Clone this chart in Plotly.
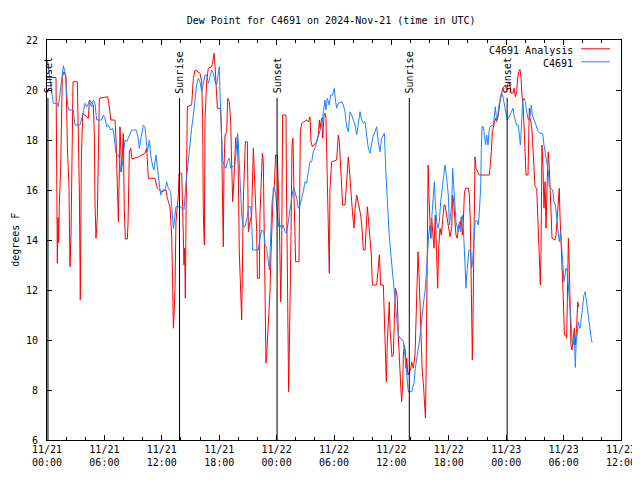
import plotly.graph_objects as go
import pandas as pd

# ---------------- data (hours after 2024-11-21 00:00 UTC, dew point degF) ----------------
BASE = pd.Timestamp("2024-11-21 00:00")
RANGE_HOURS = [0, 60]

analysis_points = [  # C4691 Analysis (red)
    (0.03, 20.5), (0.94, 20.5), (0.98, 18.67), (1.08, 13.07), (1.15, 14.9), (1.22, 13.9), (1.29, 15.4),
    (1.43, 16.93), (1.60, 20.53), (1.78, 20.73), (1.99, 20.53), (2.13, 17.73), (2.30, 16.07), (2.40, 12.93),
    (2.51, 14.2), (2.61, 16.67), (2.72, 20.33), (3.17, 20.33), (3.28, 18.6), (3.38, 16.0), (3.45, 13.07),
    (3.48, 11.6), (3.59, 17.2), (3.73, 19.07), (4.32, 18.87), (4.43, 19.6), (4.84, 19.4), (4.95, 18.2),
    (5.02, 15.47), (5.12, 14.07), (5.26, 14.9), (5.37, 18.6), (5.47, 19.67), (6.34, 19.73), (6.52, 19.33),
    (6.66, 18.8), (7.11, 18.8), (7.21, 18.07), (7.35, 15.47), (7.46, 14.73), (7.56, 16.73), (7.63, 18.53),
    (7.80, 16.73), (7.98, 18.27), (8.08, 15.2), (8.19, 14.04), (8.40, 14.04), (8.47, 14.67), (8.61, 17.53),
    (8.75, 17.67), (8.89, 17.24), (9.58, 17.33), (10.24, 17.47),
    (10.42, 17.67), (10.59, 16.47), (11.29, 16.47), (11.53, 16.07), (11.99, 15.93), (12.44, 16.0),
    (12.58, 15.67), (12.86, 15.33), (13.03, 14.2), (13.14, 12.07), (13.21, 10.47), (13.28, 11.0),
    (13.38, 12.07), (13.48, 14.73), (13.62, 15.27), (13.73, 15.8), (13.80, 16.67), (14.08, 16.67),
    (14.18, 15.27), (14.32, 13.0), (14.39, 13.67), (14.46, 11.67), (14.53, 14.87), (14.67, 19.33),
    (15.12, 19.4), (15.30, 20.47), (15.47, 20.8), (15.99, 20.67), (16.17, 20.33), (16.27, 18.87),
    (16.34, 15.0), (16.45, 13.8), (16.52, 18.87), (16.69, 20.33), (16.86, 20.87), (17.21, 20.93),
    (17.39, 21.27), (17.46, 21.47), (17.56, 21.0), (17.67, 20.07), (17.81, 19.27), (18.15, 19.27),
    (18.26, 17.93), (18.36, 15.27), (18.43, 13.73), (18.50, 16.87), (18.61, 18.2), (18.78, 18.33),
    (18.89, 19.67), (19.06, 19.53), (19.20, 18.73), (19.27, 17.53), (19.41, 15.53), (19.55, 16.47),
    (19.72, 18.07), (19.90, 18.07), (20.00, 16.6), (20.10, 13.53), (20.24, 11.67), (20.35, 10.8),
    (20.52, 15.53), (20.63, 16.73),
    (20.73, 17.93), (20.94, 17.93), (21.05, 14.33), (21.22, 14.73), (21.39, 15.0), (21.57, 17.67),
    (21.67, 16.87), (21.78, 15.53), (21.92, 14.33), (21.99, 12.47), (22.20, 12.47), (22.26, 15.0),
    (22.37, 16.2), (22.51, 17.47), (22.61, 17.13), (22.72, 14.47), (22.82, 11.13), (22.89, 9.07),
    (22.96, 9.4), (23.07, 10.07), (23.17, 10.87), (23.31, 11.93), (23.41, 13.4), (23.52, 14.73),
    (23.66, 16.07), (23.76, 16.13), (23.90, 17.4), (24.08, 17.4), (24.18, 16.33), (24.29, 14.73),
    (24.43, 11.53), (24.53, 13.53), (24.63, 19.0), (24.98, 19.0), (25.05, 15.53), (25.16, 10.73),
    (25.26, 7.93), (25.33, 9.53), (25.40, 10.87), (25.51, 14.33), (25.61, 17.8), (25.71, 18.07),
    (25.82, 15.8), (25.92, 13.67), (25.99, 13.13), (26.34, 13.13), (26.41, 15.8), (26.48, 18.33),
    (26.62, 18.67), (27.14, 18.8), (27.32, 18.73), (27.49, 18.93), (27.60, 17.93), (27.74, 17.73),
    (28.19, 17.93), (28.36, 18.2), (28.47, 18.8), (28.54, 18.47), (28.71, 18.87), (28.82, 18.07),
    (28.96, 19.0), (29.06, 19.07), (29.16, 18.87), (29.30, 16.2), (29.41, 13.8), (29.51, 12.67),
    (29.58, 16.07), (29.76, 17.13), (30.28, 17.2), (30.45, 18.2), (30.56, 17.93), (30.70, 17.0),
    (30.90, 15.4), (31.15, 15.4),
    (31.32, 16.6), (31.50, 17.33), (31.60, 16.87), (31.74, 15.93), (31.85, 15.67), (31.95, 15.0),
    (32.09, 14.47), (32.20, 15.27), (32.37, 15.8), (32.51, 15.53), (32.65, 15.27), (32.79, 15.0),
    (32.93, 14.47), (33.07, 13.6), (33.24, 13.6), (33.35, 14.2), (33.49, 15.33), (33.62, 14.73),
    (33.76, 14.2), (33.90, 13.4), (34.01, 12.2), (34.46, 12.2), (34.63, 12.87), (34.74, 13.4),
    (34.81, 12.87), (34.88, 12.2), (35.16, 12.2), (35.26, 11.13), (35.37, 9.4), (35.47, 8.33),
    (35.57, 9.93), (35.68, 11.13), (35.78, 11.53), (35.85, 10.47), (35.96, 9.93), (36.06, 9.33),
    (36.20, 9.4), (36.31, 10.47), (36.41, 12.07), (36.52, 11.93), (36.62, 11.67), (36.72, 10.2),
    (36.83, 9.0), (36.97, 8.2), (37.07, 7.53), (37.18, 8.2), (37.25, 9.4), (37.35, 9.8), (37.46, 9.53),
    (37.53, 8.87), (37.60, 9.27), (37.73, 8.6), (37.87, 8.73), (38.01, 8.8), (38.12, 9.13), (38.29, 8.87),
    (38.47, 9.4), (38.57, 11.13), (38.68, 12.87), (38.78, 13.53), (38.89, 12.6), (39.00, 11.27),
    (39.10, 9.93), (39.21, 8.87), (39.35, 8.2), (39.45, 7.27), (39.56, 6.87), (39.63, 8.87),
    (39.70, 11.53), (39.77, 14.2), (39.84, 17.0), (39.91, 15.93), (40.02, 14.73), (40.10, 14.07),
    (40.21, 14.87), (40.31, 14.2), (40.45, 13.67), (40.59, 15.0), (40.73, 13.53), (40.84, 12.07),
    (40.94, 13.67), (41.08, 14.47), (41.22, 14.2), (41.36, 14.87), (41.50, 15.4), (41.60, 15.4),
    (41.78, 15.0), (41.95, 14.47), (42.13, 14.13), (42.30, 14.47), (42.40, 15.8), (42.51, 15.53),
    (42.61, 14.73), (42.75, 14.2), (42.89, 14.07), (43.03, 14.6), (43.17, 14.47), (43.31, 14.93),
    (43.41, 14.2), (43.52, 14.73), (43.62, 15.8), (43.73, 16.07), (44.04, 16.07), (44.15, 15.8),
    (44.25, 14.73), (44.32, 12.87), (44.39, 11.0), (44.46, 9.2), (44.53, 10.87), (44.60, 13.13),
    (44.67, 15.53), (44.74, 17.33), (44.84, 16.87), (45.19, 16.6), (46.24, 16.6), (46.34, 17.0),
    (46.45, 17.53), (46.55, 18.33), (46.66, 18.53), (46.87, 18.87), (47.00, 18.73), (47.18, 19.0),
    (47.35, 19.53), (47.49, 19.8), (47.63, 20.07), (47.91, 20.2), (48.05, 20.0), (48.15, 20.2),
    (48.26, 20.33), (48.40, 20.2), (48.50, 19.87), (48.68, 19.87), (48.82, 20.07), (48.96, 19.73),
    (49.09, 19.93), (49.20, 20.47), (49.30, 20.73), (49.44, 20.83), (49.55, 20.47), (49.65, 19.8),
    (49.76, 19.4), (49.86, 18.6), (49.97, 17.53), (50.07, 16.6), (50.28, 16.6), (50.35, 17.8),
    (50.42, 19.27), (50.49, 18.87), (50.59, 18.73), (50.70, 18.33), (50.80, 17.4), (50.91, 16.6),
    (51.01, 16.13), (51.19, 16.07), (51.29, 15.0), (51.40, 14.2), (51.50, 12.87), (51.57, 12.2),
    (51.64, 13.53), (51.74, 17.8), (51.85, 16.87), (51.95, 15.27),
    (52.06, 16.33), (52.16, 14.47), (52.30, 16.47), (52.40, 17.53), (52.51, 16.87), (52.58, 16.07),
    (52.68, 15.0), (52.79, 14.07), (53.10, 14.0), (53.21, 14.2), (53.35, 15.0), (53.45, 15.53),
    (53.55, 16.07), (53.62, 15.0), (53.69, 14.33), (53.80, 13.93), (53.90, 12.87), (53.97, 11.67),
    (54.08, 10.2), (54.22, 10.2), (54.32, 10.07), (54.43, 12.87), (54.50, 14.07), (54.59, 13.0),
    (54.67, 11.4), (54.77, 9.8), (54.88, 9.6), (55.02, 10.2), (55.12, 10.47), (55.23, 9.8),
    (55.36, 10.47), (55.47, 11.53), (55.57, 11.33),
]

station_points = [  # C4691 observations (blue)
    (0.03, 21.2), (0.31, 20.47), (0.66, 19.47), (1.08, 19.47), (1.18, 19.33), (1.53, 20.4), (1.71, 20.97),
    (1.88, 20.73), (2.16, 19.4), (2.30, 19.2), (2.75, 19.2), (2.93, 18.6), (3.45, 18.6), (3.73, 19.0),
    (3.97, 19.47), (4.15, 19.33), (4.43, 19.53), (4.67, 19.33), (4.84, 19.6), (5.02, 19.47), (5.19, 18.8),
    (5.71, 18.8), (5.89, 19.0), (6.06, 18.87), (6.24, 18.53), (6.41, 18.6), (6.66, 18.4), (6.86, 18.47),
    (7.00, 18.2), (7.21, 17.47), (7.46, 17.4), (7.56, 17.27), (7.70, 16.73), (7.91, 17.13), (8.15, 18.0),
    (8.33, 17.93), (8.61, 18.2), (8.85, 18.4), (9.30, 18.4), (9.48, 18.2), (9.65, 17.67), (9.83, 18.13),
    (10.07, 18.6), (10.24, 18.53),
    (10.35, 17.93), (10.49, 17.53), (10.70, 18.0), (10.84, 17.4), (11.05, 16.93), (11.18, 16.8),
    (11.39, 17.4), (11.53, 16.87), (11.67, 16.33), (11.88, 15.8), (12.09, 16.0), (12.33, 16.0),
    (12.51, 16.33), (12.68, 16.07), (12.93, 15.93), (13.03, 15.33), (13.21, 14.47), (13.31, 14.73),
    (13.48, 15.33), (13.90, 15.33), (14.32, 15.2), (14.53, 16.27), (14.67, 16.87), (14.81, 17.4),
    (14.95, 17.93), (15.12, 18.47), (15.30, 19.0), (15.47, 19.53), (15.64, 20.2), (15.82, 20.47),
    (15.99, 20.33), (16.17, 19.93), (16.34, 20.33), (16.52, 20.6), (16.69, 20.6), (16.86, 20.27),
    (17.04, 20.53), (17.21, 20.8), (17.39, 20.67), (17.56, 20.33), (17.73, 20.2), (17.91, 20.73),
    (18.01, 20.93), (18.08, 19.93), (18.19, 18.73), (18.26, 17.93), (18.36, 17.13), (18.71, 16.87),
    (18.85, 17.13), (19.06, 17.27), (19.20, 16.87), (19.65, 17.0), (19.83, 17.8), (19.93, 18.27),
    (20.03, 17.67), (20.17, 16.6), (20.35, 15.0), (20.52, 14.53), (20.70, 14.53),
    (20.94, 14.93), (21.05, 15.33), (21.29, 15.33), (21.39, 14.73), (21.50, 13.6), (22.09, 13.6),
    (22.26, 14.07), (22.44, 14.4), (22.68, 14.33), (22.79, 13.8), (22.96, 13.67), (23.14, 13.13),
    (23.24, 12.8), (23.31, 13.4), (23.41, 14.73), (23.52, 15.53), (23.66, 15.8), (23.76, 16.13),
    (23.87, 15.93), (24.01, 15.27), (24.11, 15.0), (24.22, 14.53), (24.36, 14.6), (24.53, 14.47),
    (24.70, 14.6), (24.88, 14.33), (25.05, 14.27), (25.16, 14.6), (25.33, 15.0), (25.47, 15.53),
    (25.68, 15.93), (25.82, 16.07), (25.92, 15.93), (26.10, 15.67), (26.27, 15.27), (26.45, 15.4),
    (26.62, 15.67), (26.79, 15.93), (26.97, 16.33), (27.14, 16.27), (27.32, 16.73), (27.49, 17.13),
    (27.67, 17.13), (27.84, 17.53), (28.01, 17.67), (28.19, 17.93), (28.36, 18.07), (28.54, 18.33),
    (28.71, 18.6), (28.89, 19.13), (29.06, 19.6), (29.16, 19.2), (29.30, 19.67), (29.51, 19.4),
    (29.65, 19.8), (29.86, 19.8), (30.03, 20.07), (30.17, 19.53), (30.28, 19.27), (30.45, 19.47),
    (30.80, 19.53), (30.98, 19.4), (31.15, 19.13),
    (31.32, 18.53), (31.50, 18.33), (31.67, 19.13), (31.85, 19.0), (32.02, 18.8), (32.20, 18.6),
    (32.37, 18.2), (32.54, 18.73), (32.72, 19.13), (32.89, 18.8), (33.07, 18.67), (33.24, 18.73),
    (33.41, 18.2), (33.59, 17.67), (33.76, 17.47), (33.94, 17.93), (34.11, 18.2), (34.29, 18.33),
    (34.46, 18.53), (34.63, 17.93), (34.81, 17.53), (34.98, 18.07), (35.26, 18.27), (35.44, 16.6),
    (35.61, 15.13), (35.75, 14.33), (35.92, 13.53), (36.13, 12.6), (36.31, 11.93), (36.48, 11.27),
    (36.62, 10.73), (36.72, 10.2), (36.90, 10.07), (37.18, 10.0), (37.32, 9.8), (37.46, 9.13),
    (37.60, 8.6), (37.70, 8.07), (37.77, 7.93), (38.12, 7.93), (38.22, 8.07), (38.36, 8.27),
    (38.50, 8.87), (38.64, 9.33), (38.82, 9.67), (38.92, 9.93), (39.06, 10.33), (39.23, 11.0),
    (39.41, 11.67), (39.51, 11.93), (39.62, 12.47), (39.76, 13.4), (39.90, 14.2), (40.03, 14.6),
    (40.14, 14.07), (40.24, 15.0), (40.38, 15.8), (40.49, 16.33), (40.59, 15.53), (40.73, 14.73),
    (40.87, 14.47), (41.01, 14.73), (41.15, 15.53), (41.29, 16.07), (41.43, 16.6), (41.60, 17.0),
    (41.78, 16.47), (41.95, 15.8), (42.06, 14.6), (42.20, 15.0), (42.30, 15.4), (42.40, 16.87),
    (42.51, 16.07), (42.65, 15.53), (42.75, 14.73), (42.89, 14.53), (43.00, 14.33), (43.10, 14.73),
    (43.24, 14.33), (43.34, 14.73), (43.45, 15.0), (43.59, 13.93), (43.69, 12.73), (43.80, 12.07),
    (43.87, 12.6), (44.01, 13.4), (44.11, 13.6), (44.29, 13.6), (44.39, 12.87), (44.49, 13.13),
    (44.63, 14.07), (44.74, 14.73), (44.91, 14.8), (45.09, 14.6), (45.19, 15.13), (45.33, 16.07),
    (45.40, 17.67), (45.47, 18.53), (45.61, 18.53), (45.71, 18.2), (45.85, 17.8), (45.96, 18.2),
    (46.10, 17.8), (46.20, 18.33), (46.31, 18.53), (46.66, 18.6), (46.76, 19.0), (46.86, 19.33),
    (47.00, 18.8), (47.11, 19.0), (47.21, 19.33), (47.35, 19.6), (47.49, 19.87), (47.63, 19.8),
    (47.74, 19.53), (47.87, 19.33), (48.01, 19.0), (48.12, 18.8), (48.26, 18.87), (48.40, 19.0),
    (48.57, 19.2), (48.71, 19.27), (48.81, 19.0), (48.95, 18.73), (49.09, 18.6), (49.27, 18.6),
    (49.37, 18.2), (49.48, 17.8), (49.58, 18.47), (49.72, 19.53), (49.86, 19.67), (50.00, 19.53),
    (50.14, 19.13), (50.31, 18.8), (50.49, 19.0), (50.63, 19.4), (50.73, 19.0), (50.91, 18.8),
    (51.05, 18.6), (51.19, 18.47), (51.36, 18.33), (51.53, 18.27), (51.81, 18.27), (51.95, 17.8),
    (52.09, 17.4), (52.23, 17.0), (52.40, 16.73), (52.51, 16.13), (52.86, 16.0), (53.00, 15.53),
    (53.14, 15.4), (53.28, 14.87), (53.45, 14.33), (53.55, 13.93), (53.69, 14.33), (53.80, 13.67),
    (53.90, 13.0), (54.04, 12.33), (54.15, 12.6), (54.25, 12.87), (54.39, 12.73), (54.53, 12.07),
    (54.67, 11.13), (54.77, 10.73), (54.88, 9.93), (55.02, 9.8), (55.12, 10.2), (55.23, 8.9),
    (55.30, 9.8), (55.44, 10.47), (55.54, 10.73), (55.64, 10.47), (55.71, 10.47), (55.85, 10.87),
    (55.99, 11.4), (56.13, 11.8), (56.27, 11.93), (56.41, 11.53), (56.55, 11.0), (56.69, 10.73),
    (56.83, 10.2), (56.93, 9.93), (57.04, 9.93),
]

sunset_hours = [0.10, 24.05, 48.10]
sunrise_hours = [13.85, 37.87, 61.88]

tick_hours = [0, 6, 12, 18, 24, 30, 36, 42, 48, 54, 60]
tick_labels = ["11/21<br>00:00", "11/21<br>06:00", "11/21<br>12:00", "11/21<br>18:00",
               "11/22<br>00:00", "11/22<br>06:00", "11/22<br>12:00", "11/22<br>18:00",
               "11/23<br>00:00", "11/23<br>06:00", "11/23<br>12:00"]
y_ticks = [6, 8, 10, 12, 14, 16, 18, 20, 22]

analysis_hours = [p[0] for p in analysis_points]
analysis_dew = [p[1] for p in analysis_points]
station_hours = [p[0] for p in station_points]
station_dew = [p[1] for p in station_points]


def to_time(hours):
    return [BASE + pd.Timedelta(hours=h) for h in hours]


def to_paper(h):
    return (h - RANGE_HOURS[0]) / (RANGE_HOURS[1] - RANGE_HOURS[0])


FONT = "DejaVu Sans Mono"
RED = "#ff0000"
BLUE = "#1a85ff"

# the page body adds an 8px margin, so the figure is 8px smaller than the window
PAGE_OFFSET = 8
FIG_W, FIG_H = 640 - PAGE_OFFSET, 480 - PAGE_OFFSET

fig = go.Figure()
fig.add_trace(go.Scatter(x=to_time(analysis_hours), y=analysis_dew, mode="lines",
                         name="C4691 Analysis", line=dict(color=RED, width=1),
                         showlegend=False))
fig.add_trace(go.Scatter(x=to_time(station_hours), y=station_dew, mode="lines",
                         name="C4691", line=dict(color=BLUE, width=1),
                         showlegend=False))

shapes = []
annotations = []
for label, hours in (("Sunset", sunset_hours), ("Sunrise", sunrise_hours)):
    for h in hours:
        px = to_paper(h)
        shapes.append(dict(type="line", xref="paper", yref="paper", x0=px, x1=px,
                           y0=0, y1=0.855, line=dict(color="black", width=1)))
        annotations.append(dict(text=label, xref="paper", yref="paper", x=px, y=0.862,
                                xanchor="center", yanchor="bottom", textangle=-90,
                                showarrow=False, font=dict(family=FONT, size=10, color="black")))

# legend (text first, then line sample, like the original)
for i, (name, color) in enumerate((("C4691 Analysis", RED), ("C4691", BLUE))):
    yy = 0.975 - i * 0.0325
    annotations.append(dict(text=name, xref="paper", yref="paper", x=0.919, y=yy,
                            xanchor="right", yanchor="middle", showarrow=False,
                            font=dict(family=FONT, size=10, color="black")))
    shapes.append(dict(type="line", xref="paper", yref="paper", x0=0.9303, x1=0.9808,
                       y0=yy + 0.003, y1=yy + 0.003, line=dict(color=color, width=1)))

annotations.append(dict(text="degrees F", xref="paper", yref="paper", x=-0.056, y=0.5,
                        xanchor="center", yanchor="middle", textangle=-90, showarrow=False,
                        font=dict(family=FONT, size=10, color="black")))

fig.update_layout(
    width=FIG_W, height=FIG_H,
    margin=dict(l=47 - PAGE_OFFSET, r=19, t=40 - PAGE_OFFSET, b=40, autoexpand=False),
    paper_bgcolor="white", plot_bgcolor="white",
    font=dict(family=FONT, size=10, color="black"),
    title=dict(text="Dew Point for C4691 on 2024-Nov-21 (time in UTC)", x=0.495, xref="paper",
               y=1 - (20 - PAGE_OFFSET) / FIG_H, yref="container", xanchor="center",
               yanchor="middle", font=dict(family=FONT, size=10, color="black")),
    shapes=shapes, annotations=annotations,
    showlegend=False,
)
fig.update_xaxes(
    type="date", range=to_time(RANGE_HOURS),
    tickmode="array", tickvals=to_time(tick_hours), ticktext=tick_labels,
    ticks="inside", ticklen=5, tickcolor="black", showline=True, linecolor="black",
    linewidth=1, mirror="ticks", showgrid=False, zeroline=False,
    minor=dict(tickmode="linear", tick0=BASE, dtick=2 * 3600 * 1000, ticks="inside",
               ticklen=3, tickcolor="black", showgrid=False),
    tickfont=dict(family=FONT, size=10, color="black"),
)
fig.update_yaxes(
    range=[6, 22], tickmode="array", tickvals=y_ticks,
    ticks="inside", ticklen=5, tickcolor="black", showline=True, linecolor="black",
    linewidth=1, mirror="ticks", showgrid=False, zeroline=False, ticklabelstandoff=6,
    tickfont=dict(family=FONT, size=10, color="black"),
)

fig.write_html("out.html")
